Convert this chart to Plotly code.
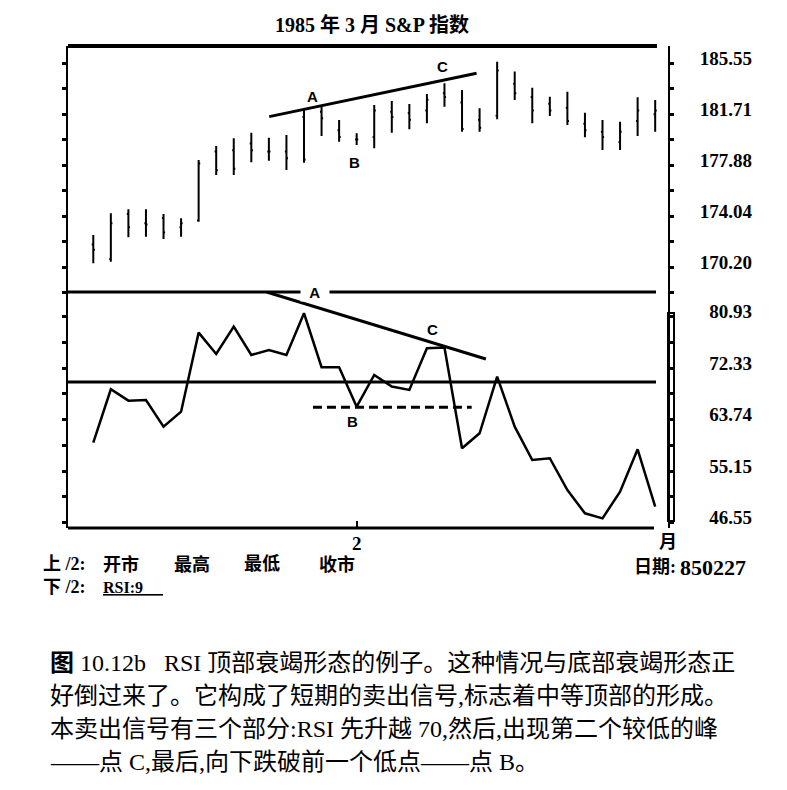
import plotly.graph_objects as go

# ----------------------------------------------------------------------
# S&P March 1985 contract, daily bars (last bar = 850227) and 9-day RSI
BARS = list(range(33))
HIGH = [172.61, 174.25, 174.55, 174.55, 174.19, 173.87, 178.26, 179.32, 179.90, 180.32,
        179.94, 180.15, 182.03, 182.28, 181.27, 180.27, 182.41, 182.71, 182.48, 183.24,
        184.04, 183.54, 182.16, 185.67, 184.92, 183.71, 183.03, 183.41, 181.83, 181.28,
        181.15, 182.99, 182.78]
LOW = [170.48, 170.60, 172.44, 172.48, 172.31, 172.48, 173.61, 177.13, 177.13, 178.09,
       178.21, 177.51, 178.06, 180.07, 179.64, 179.39, 179.14, 180.32, 180.58, 181.03,
       182.28, 180.40, 180.40, 181.33, 182.78, 181.03, 181.58, 180.90, 179.97, 179.02,
       179.02, 180.07, 180.40]
OPEN = [171.9, 170.8, 174.2, 173.5, 173.9, 173.2, 173.7, 178.9, 179.0, 179.5,
        178.9, 178.9, 181.5, 181.9, 180.5, 179.8, 180.0, 181.9, 181.8, 182.0,
        183.3, 182.6, 181.3, 181.6, 184.0, 183.0, 182.5, 182.2, 181.0, 180.4,
        179.6, 181.2, 181.7]
CLOSE = [171.5, 173.5, 173.2, 173.4, 172.8, 173.5, 178.0, 177.5, 177.6, 179.0,
         178.9, 178.4, 178.3, 181.4, 180.0, 179.8, 182.0, 181.5, 181.3, 182.8,
         183.0, 180.6, 180.7, 185.0, 183.3, 182.0, 182.0, 181.2, 180.5, 180.0,
         180.4, 182.0, 182.0]
RSI9 = [59.89, 68.79, 66.89, 67.01, 62.56, 65.06, 78.23, 74.68, 79.23, 74.51,
        75.34, 74.51, 81.46, 72.46, 72.46, 65.89, 71.18, 69.26, 68.68, 75.63,
        75.73, 58.95, 61.46, 70.89, 62.56, 57.00, 57.29, 52.00, 48.12, 47.28,
        51.72, 58.79, 49.22]

PRICE_TICKS = [170.20, 174.04, 177.88, 181.71, 185.55]
RSI_TICKS = [46.55, 55.15, 63.74, 72.33, 80.93]
MONTH_TICK = 15          # first February bar
MONTH_LABEL = "2"

# analysis lines
PRICE_TREND_X = [10.02, 21.83]
PRICE_TREND_Y = [181.53, 184.80]
RSI_TREND_X = [9.87, 22.36]
RSI_TREND_Y = [85.0, 73.84]
RSI_B_X = [12.51, 21.55]
RSI_B_LEVEL = 65.8
RSI_SIGNAL = 70

# page body has an 8px margin, so the figure is a bit smaller than the window
OFF = 8
W, H = 787 - 2 * OFF, 790 - 2 * OFF
def px(x): return (x - OFF) / W
def py(y): return 1 - (y - OFF) / H

SERIF = "Liberation Serif, Noto Sans CJK SC"
LBL = "Liberation Sans"

def mids(v):
    return [(a + b) / 2 for a, b in zip(v[:-1], v[1:])]

fig = go.Figure()
fig.add_trace(go.Ohlc(
    x=BARS, open=OPEN, high=HIGH, low=LOW, close=CLOSE,
    increasing=dict(line=dict(color="black", width=2)),
    decreasing=dict(line=dict(color="black", width=2)),
    tickwidth=0.09, xaxis="x", yaxis="y", showlegend=False,
))
fig.add_trace(go.Scatter(
    x=BARS, y=RSI9, mode="lines", line=dict(color="black", width=2.5),
    xaxis="x", yaxis="y2", showlegend=False,
))

shapes = [
    # frame lines
    dict(type="line", xref="paper", yref="paper", x0=px(68), x1=px(657), y0=py(46), y1=py(46),
         line=dict(color="black", width=4)),
    dict(type="line", xref="paper", yref="paper", x0=px(68), x1=px(656), y0=py(292), y1=py(292),
         line=dict(color="black", width=3)),
    dict(type="line", xref="paper", yref="paper", x0=px(68), x1=px(654), y0=py(528), y1=py(528),
         line=dict(color="black", width=3)),
    dict(type="rect", xref="paper", yref="paper", x0=px(668), x1=px(674), y0=py(521), y1=py(313),
         line=dict(color="black", width=2)),
    # RSI 70 level
    dict(type="line", xref="paper", yref="y2", x0=px(68), x1=px(656), y0=RSI_SIGNAL, y1=RSI_SIGNAL,
         line=dict(color="black", width=3)),
    # trend lines
    dict(type="line", xref="x", yref="y", x0=PRICE_TREND_X[0], x1=PRICE_TREND_X[1],
         y0=PRICE_TREND_Y[0], y1=PRICE_TREND_Y[1], line=dict(color="black", width=3)),
    dict(type="line", xref="x", yref="y2", x0=RSI_TREND_X[0], x1=RSI_TREND_X[1],
         y0=RSI_TREND_Y[0], y1=RSI_TREND_Y[1], line=dict(color="black", width=3)),
    dict(type="line", xref="x", yref="y2", x0=RSI_B_X[0], x1=RSI_B_X[1],
         y0=RSI_B_LEVEL, y1=RSI_B_LEVEL, line=dict(color="black", width=3, dash="9px,5px")),
]

ann = []
def lab(text, x, y, xref="x", yref="y", **kw):
    d = dict(text=text, x=x, y=y, xref=xref, yref=yref, showarrow=False,
             font=dict(family=LBL, size=15, color="black", weight="bold"))
    d.update(kw)
    ann.append(d)

lab("A", 12.51, 183.01)
lab("B", 14.85, 178.04)
lab("C", 19.91, 185.27)
lab("\u00a0\u00a0A\u00a0\u00a0", 12.63, 84.98, yref="y2", bgcolor="white", borderpad=0)
lab("B", 14.79, 63.34, yref="y2")
lab("C", 19.29, 78.68, yref="y2")

def txt(text, x, y, size=18, xanchor="left", family=SERIF, bold=True):
    ann.append(dict(text=text, x=px(x), y=py(y), xref="paper", yref="paper",
                    xanchor=xanchor, yanchor="middle", showarrow=False,
                    font=dict(family=family, size=size, color="black",
                              weight="bold" if bold else "normal")))

txt("1985 年 3 月 S&P 指数", 372, 25, size=20, xanchor="center")
txt("月", 668, 542, xanchor="center")
txt("日期:", 632, 567)
txt("850227", 678, 567, size=22)
txt("上 /2:", 41, 564)
txt("开市", 101, 564)
txt("最高", 172, 564)
txt("最低", 242, 564)
txt("收市", 317, 564)
txt("下 /2:", 41, 587)
txt("<u>RSI:9\u00a0\u00a0\u00a0\u00a0\u00a0</u>", 101, 587, size=16)

cap = [
    "<b>图</b> 10.12b   RSI 顶部衰竭形态的例子。这种情况与底部衰竭形态正",
    "好倒过来了。它构成了短期的卖出信号,标志着中等顶部的形成。",
    "本卖出信号有三个部分:RSI 先升越 70,然后,出现第二个较低的峰",
    "——点 C,最后,向下跌破前一个低点——点 B。",
]
for i, line in enumerate(cap):
    txt(line, 48, 663 + i * 33, size=24, bold=False)

yax = dict(showgrid=False, zeroline=False, showline=True, linecolor="black", linewidth=2,
           mirror="ticks", side="right", anchor="x", ticks="outside", ticklen=4, tickwidth=3,
           tickcolor="black", ticklabelstandoff=22, ticklabelshift=-5,
           tickfont=dict(family=SERIF, size=19, color="black", weight="bold"))

fig.update_layout(
    width=W, height=H,
    margin=dict(l=0, r=0, t=0, b=0),
    paper_bgcolor="white", plot_bgcolor="white",
    xaxis=dict(domain=[px(68), px(668)], range=[-1.44, 32.73], anchor="y2",
               showgrid=False, zeroline=False, showline=False,
               tickvals=[MONTH_TICK], ticktext=[MONTH_LABEL], ticks="inside",
               ticklen=7, tickwidth=2, tickcolor="black", ticklabelstandoff=2,
               tickfont=dict(family=SERIF, size=19, color="black", weight="bold"),
               rangeslider=dict(visible=False)),
    yaxis=dict(yax, domain=[py(292), py(46)], range=[168.32, 186.85],
               tickvals=PRICE_TICKS, ticktext=[f"{v:.2f}" for v in PRICE_TICKS],
               minor=dict(tickvals=mids(PRICE_TICKS), ticks="outside", ticklen=4,
                          tickwidth=3, tickcolor="black")),
    yaxis2=dict(yax, domain=[py(528), py(292)], range=[45.67, 85.0],
                tickvals=RSI_TICKS, ticktext=[f"\u00a0\u00a0{v:.2f}" for v in RSI_TICKS],
                minor=dict(tickvals=mids(RSI_TICKS) + [85.0], ticks="outside", ticklen=4,
                           tickwidth=3, tickcolor="black")),
    shapes=shapes,
    annotations=ann,
)

fig.write_html("out.html")
